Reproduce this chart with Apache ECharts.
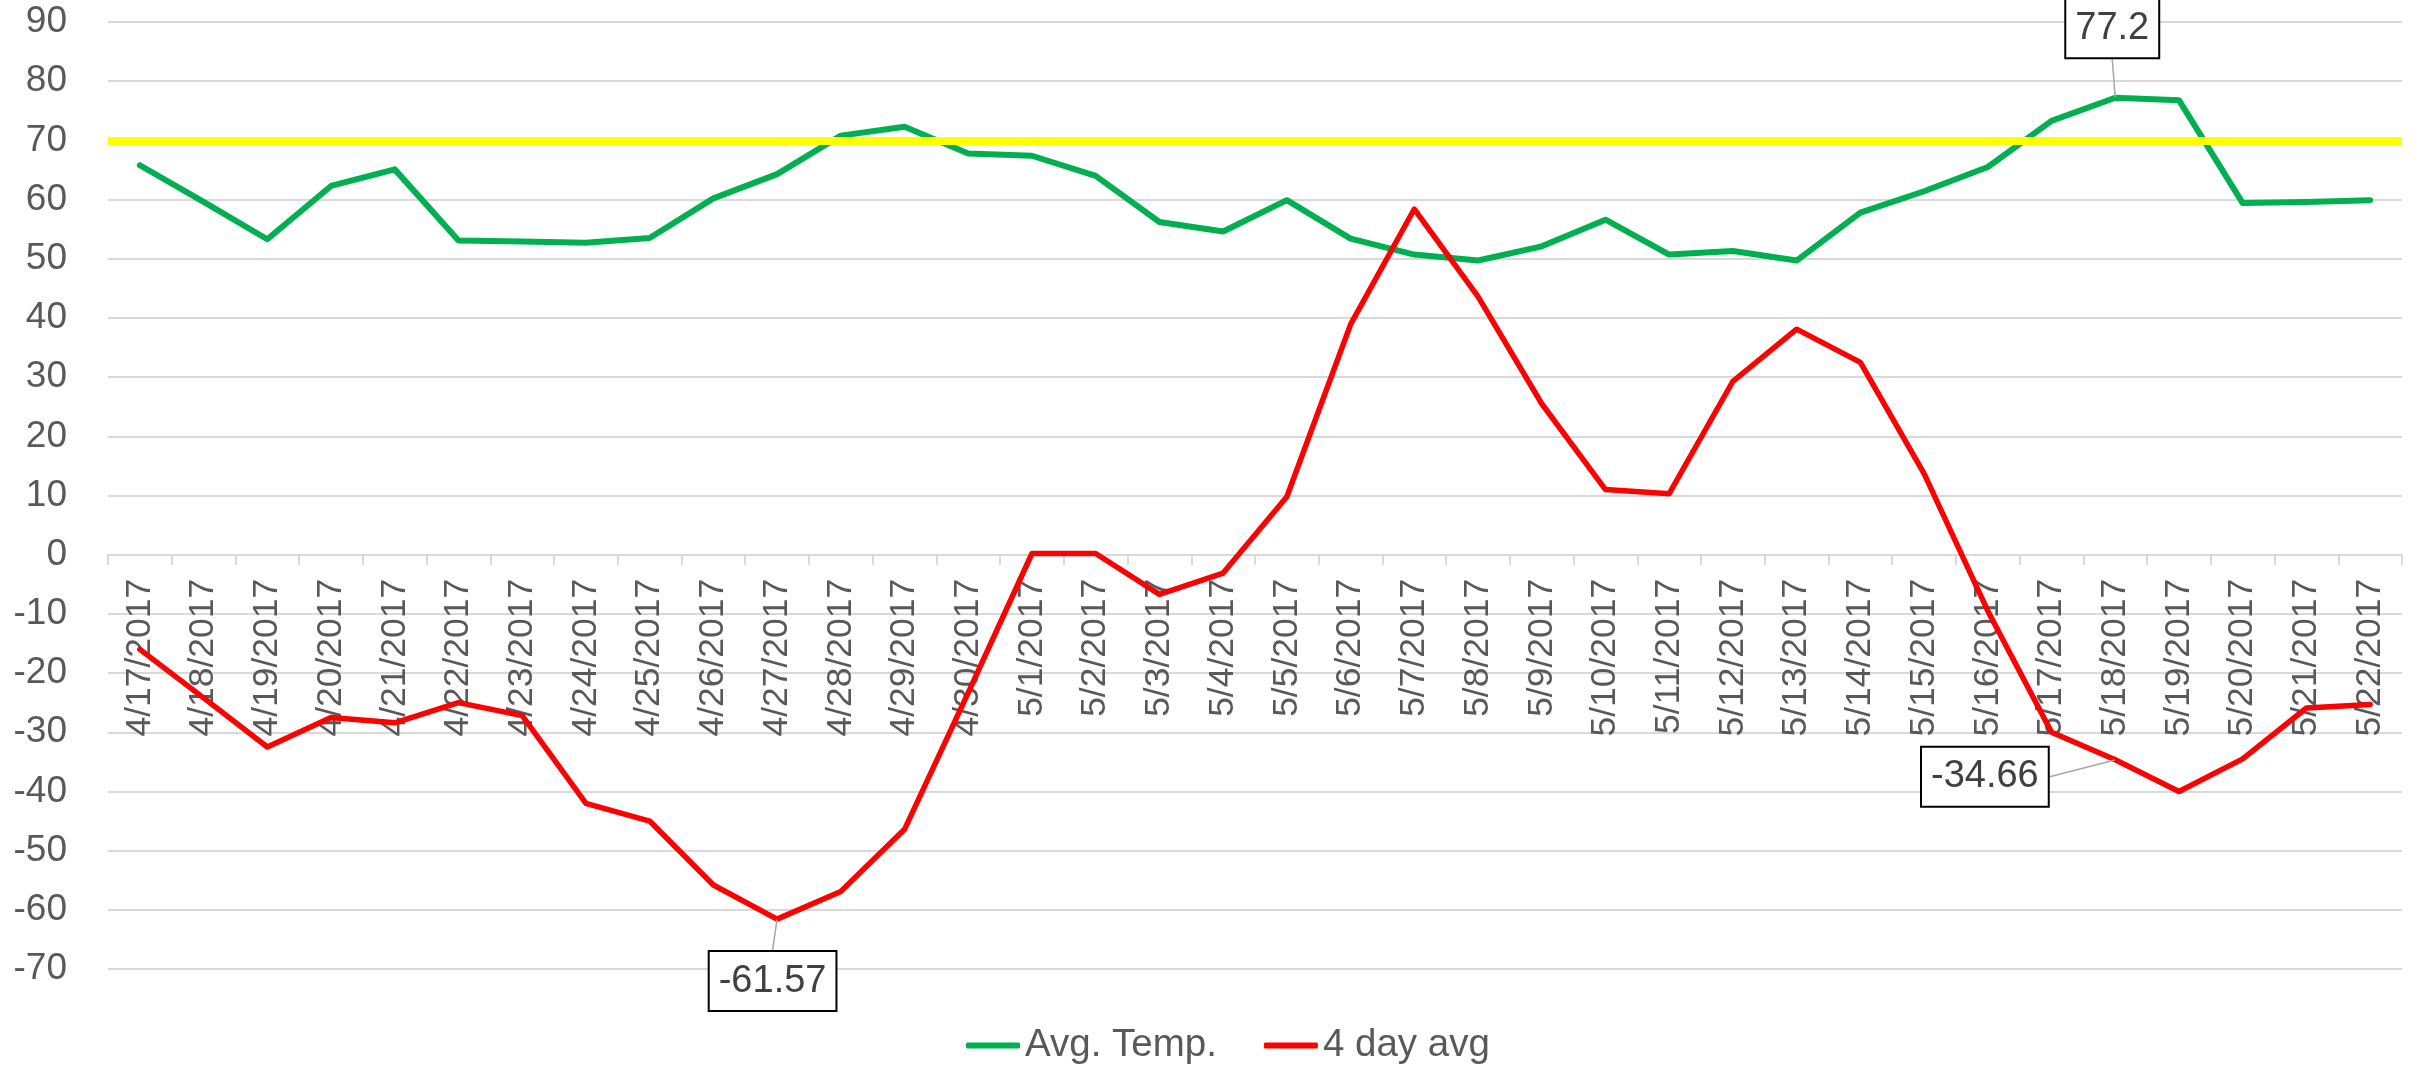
<!DOCTYPE html>
<html>
<head>
<meta charset="utf-8">
<title>Avg. Temp. vs 4 day avg</title>
<script src="https://cdn.jsdelivr.net/npm/echarts@6/dist/echarts.min.js"></script>
<style>
  html, body { margin: 0; padding: 0; background: #fff; }
  #chart { width: 2423px; height: 1067px; }
</style>
</head>
<body>
<div id="chart"></div>
<script>
// tick labels / categories
const dates = [
  '4/17/2017', '4/18/2017', '4/19/2017', '4/20/2017', '4/21/2017', '4/22/2017',
  '4/23/2017', '4/24/2017', '4/25/2017', '4/26/2017', '4/27/2017', '4/28/2017',
  '4/29/2017', '4/30/2017', '5/1/2017', '5/2/2017', '5/3/2017', '5/4/2017',
  '5/5/2017', '5/6/2017', '5/7/2017', '5/8/2017', '5/9/2017', '5/10/2017',
  '5/11/2017', '5/12/2017', '5/13/2017', '5/14/2017', '5/15/2017', '5/16/2017',
  '5/17/2017', '5/18/2017', '5/19/2017', '5/20/2017', '5/21/2017', '5/22/2017'
]

const avgTemp = [
  65.8, 59.6, 53.3, 62.3, 65.1, 53.1, 52.9, 52.7, 53.5, 60.2, 64.3, 70.8,
  72.3, 67.8, 67.4, 64.0, 56.2, 54.6, 59.9, 53.4, 50.7, 49.7, 52.1, 56.6,
  50.7, 51.3, 49.7, 57.8, 61.4, 65.5, 73.3, 77.2, 76.8, 59.4, 59.6, 59.9
]

const fourDayAvg = [
  -16.0, -24.2, -32.5, -27.5, -28.4, -25.0, -27.2, -42.0, -45.0, -55.8, -61.57, -56.9,
  -46.4, -23.3, 0.2, 0.2, -6.7, -3.1, 9.8, 38.9, 58.4, 43.6, 25.5, 11.0,
  10.3, 29.3, 38.1, 32.5, 13.7, -9.5, -30.0, -34.66, -40.0, -34.5, -25.9, -25.3
]

const threshold = 70

// y scale
const yMin = -70
const yMax = 90
const yStep = 10

// which points carry a data label
const avgTempLabels = [31]
const fourDayLabels = [10, 31]

const FONT = '"Liberation Sans", Arial, sans-serif'

const gridTop = 22
const gridBottom = 98
const plotHeight = 1067 - gridTop - gridBottom
// the category axis sits on the zero line, like the Excel original
const xAxisOffset = -plotHeight * (0 - yMin) / (yMax - yMin)

const boxLabel = {
  show: true,
  formatter: '{c}',
  fontFamily: FONT,
  fontSize: 38,
  color: '#404040',
  backgroundColor: '#ffffff',
  borderColor: '#000000',
  borderWidth: 2,
  padding: [10, 9]
}

function withLabels(values, idxList, position) {
  return values.map((v, i) => {
    if (idxList.indexOf(i) < 0) return v
    const pos = Array.isArray(position) ? position[idxList.indexOf(i)] : position
    return { value: v, label: Object.assign({}, boxLabel, { position: pos }) }
  })
}

const chart = echarts.init(document.getElementById('chart'))

chart.setOption({
  animation: false,
  textStyle: { fontFamily: FONT },
  grid: {
    left: 108,
    right: 21,
    top: gridTop,
    bottom: gridBottom,
    containLabel: false,
    outerBoundsMode: 'none'
  },
  legend: {
    top: 1021,
    left: 961,
    icon: 'roundRect',
    itemWidth: 54,
    itemHeight: 6,
    itemGap: 47,
    textStyle: { fontSize: 38.5, color: '#595959', fontFamily: FONT },
    data: ['Avg. Temp.', '4 day avg']
  },
  xAxis: {
    type: 'category',
    data: dates,
    boundaryGap: true,
    position: 'bottom',
    offset: xAxisOffset,
    axisLine: { onZero: false, lineStyle: { color: '#d9d9d9', width: 2 } },
    axisTick: { show: true, length: 10, interval: 0, lineStyle: { color: '#d9d9d9', width: 2 } },
    axisLabel: {
      interval: 0,
      rotate: 90,
      margin: 24,
      fontSize: 35.5,
      color: '#595959',
      fontFamily: FONT,
      hideOverlap: false
    },
    splitLine: { show: false }
  },
  yAxis: {
    type: 'value',
    min: yMin,
    max: yMax,
    interval: yStep,
    axisLine: { show: false },
    axisTick: { show: false },
    axisLabel: { fontSize: 37, color: '#595959', margin: 41, fontFamily: FONT },
    splitLine: { lineStyle: { color: '#d9d9d9', width: 2 } }
  },
  series: [
    {
      name: 'Avg. Temp.',
      type: 'line',
      data: withLabels(avgTemp, avgTempLabels, 'top'),
      symbol: 'circle',
      symbolSize: 1,
      showSymbol: true,
      showAllSymbol: true,
      itemStyle: { color: '#00B050' },
      lineStyle: { color: '#00B050', width: 6, cap: 'round', join: 'round' },
      labelLine: { show: true, lineStyle: { color: '#a6a6a6', width: 1.5 } },
      labelLayout: function (p) {
        if (p.dataIndex === 31) return { dx: -3, dy: -35 }
        return {}
      },
      emphasis: { disabled: true },
      z: 2
    },
    {
      name: '4 day avg',
      type: 'line',
      data: withLabels(fourDayAvg, fourDayLabels, ['bottom', 'left']),
      symbol: 'circle',
      symbolSize: 1,
      showSymbol: true,
      showAllSymbol: true,
      itemStyle: { color: '#FF0000' },
      lineStyle: { color: '#FF0000', width: 5.5, cap: 'round', join: 'round' },
      labelLine: { show: true, lineStyle: { color: '#a6a6a6', width: 1.5 } },
      labelLayout: function (p) {
        if (p.dataIndex === 10) return { dx: -4.5, dy: 27.5 }
        if (p.dataIndex === 31) return { dx: -62, dy: 17 }
        return {}
      },
      emphasis: { disabled: true },
      z: 3,
      markLine: {
        silent: true,
        symbol: ['none', 'none'],
        label: { show: false },
        lineStyle: { color: '#FFFF00', width: 8, type: 'solid' },
        data: [{ yAxis: threshold }]
      }
    }
  ]
})
</script>
</body>
</html>
